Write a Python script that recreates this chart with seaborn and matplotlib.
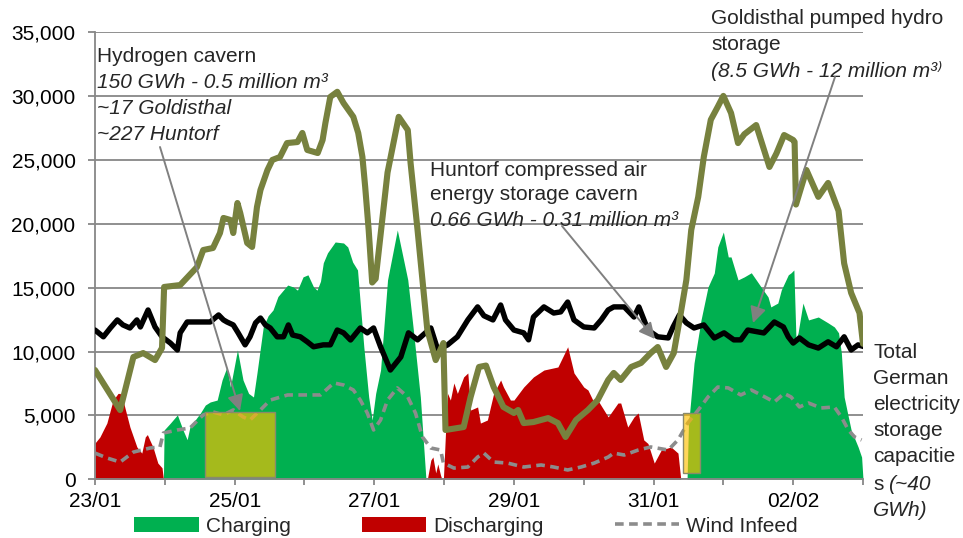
import matplotlib
matplotlib.use('Agg')
import matplotlib.pyplot as plt
import seaborn as sns
import pandas as pd
from matplotlib.patches import Patch, Rectangle
from matplotlib.lines import Line2D

# ---------------- data (time in days from 23/01 00:00, values in MW / MWh) ----------------
tick_days = list(range(0, 12))
tick_labels = ["23/01", "", "25/01", "", "27/01", "", "29/01", "", "31/01", "", "02/02", ""]

storage_t = [0.00, 0.36, 0.55, 0.69, 0.86, 0.96, 0.99, 1.22, 1.46, 1.55, 1.69, 1.79, 1.84, 1.94, 1.98,
             2.04, 2.08, 2.18, 2.25, 2.32, 2.37, 2.47, 2.54, 2.65, 2.75, 2.90, 2.97, 3.04, 3.19, 3.26,
             3.30, 3.37, 3.47, 3.56, 3.70, 3.77, 3.83, 3.87, 3.92, 3.97, 4.02, 4.19, 4.35, 4.48, 4.52,
             4.62, 4.69, 4.76, 4.88, 4.99, 5.02, 5.28, 5.38, 5.50, 5.60, 5.71, 5.85, 6.00, 6.06, 6.14,
             6.28, 6.49, 6.63, 6.74, 6.89, 7.06, 7.20, 7.35, 7.43, 7.53, 7.68, 7.82, 7.96, 8.06, 8.18,
             8.29, 8.39, 8.47, 8.54, 8.64, 8.72, 8.82, 8.92, 9.00, 9.11, 9.21, 9.30, 9.47, 9.66, 9.76,
             9.87, 10.00, 10.02, 10.04, 10.19, 10.36, 10.50, 10.65, 10.73, 10.83, 10.95, 11.00]
storage_v = [8550, 5420, 9570, 9880, 9330, 10280, 15050, 15200, 16600, 17940, 18100, 19270, 20450, 20290, 19270,
             21620, 20840, 18490, 18180, 21310, 22640, 24200, 24990, 25220, 26310, 26390, 27100, 25770, 25530, 26550,
             27880, 29920, 30320, 29440, 28360, 27100, 25230, 22870, 19500, 15400, 15700, 24000, 28360, 27330, 24750,
             19500, 15600, 11680, 9330, 10660, 3860, 4090, 6440, 8790, 8900, 7220, 5660, 5190, 5420, 4400,
             4480, 4790, 4400, 3310, 4640, 5420, 6200, 7770, 8320, 7770, 8790, 9100, 9880, 10350, 8790,
             9880, 13010, 15600, 19510, 22100, 25230, 28130, 29150, 30000, 28660, 26310, 27000, 27720, 24440, 25500,
             26940, 26550, 26400, 21500, 24200, 22100, 23190, 21000, 16900, 14590, 13010, 10600]

load_t = [0.00, 0.12, 0.22, 0.32, 0.40, 0.50, 0.60, 0.65, 0.76, 0.86, 0.96, 1.08, 1.18, 1.22, 1.32, 1.51,
          1.65, 1.77, 1.84, 1.89, 1.98, 2.05, 2.15, 2.22, 2.30, 2.37, 2.44, 2.51, 2.61, 2.70, 2.77, 2.83,
          2.94, 3.04, 3.13, 3.27, 3.37, 3.47, 3.56, 3.66, 3.80, 3.90, 3.99, 4.09, 4.23, 4.38, 4.49, 4.62,
          4.81, 4.91, 5.05, 5.19, 5.34, 5.48, 5.57, 5.70, 5.81, 5.88, 6.00, 6.14, 6.21, 6.28, 6.43, 6.57,
          6.67, 6.77, 6.86, 7.00, 7.15, 7.25, 7.35, 7.43, 7.58, 7.72, 7.79, 7.92, 8.06, 8.21, 8.28, 8.37,
          8.47, 8.58, 8.72, 8.87, 9.01, 9.15, 9.25, 9.35, 9.50, 9.58, 9.73, 9.86, 9.93, 10.00, 10.09, 10.22,
          10.36, 10.50, 10.62, 10.73, 10.83, 10.93, 11.02]
load_v = [11680, 11150, 11840, 12470, 12080, 11840, 12470, 11920, 13250, 11920, 11150, 10660, 10120, 11460, 12310, 12310,
          12310, 12860, 12470, 12310, 12080, 11460, 10520, 11150, 12240, 12620, 12080, 11840, 11150, 11150, 12080, 11290,
          11150, 10760, 10370, 10520, 10520, 11680, 11460, 10900, 11840, 11460, 11840, 10370, 8550, 9570, 11460, 10910,
          11840, 10120, 10520, 11150, 12470, 13490, 12800, 12470, 13640, 12470, 11680, 11460, 10910, 12700, 13490, 13010,
          13100, 13870, 12470, 11920, 11840, 12470, 13250, 13490, 13490, 12700, 13490, 11680, 11150, 11060, 11920, 12860,
          12240, 11840, 12080, 11060, 11460, 10910, 10910, 11680, 11530, 11450, 12310, 11920, 11150, 10660, 11060, 10520,
          10270, 10760, 10370, 11150, 10120, 10520, 10370]

wind_t = [0.00, 0.17, 0.36, 0.55, 0.79, 0.93, 0.98, 1.18, 1.36, 1.55, 1.69, 1.84, 1.98, 2.12, 2.22, 2.37,
          2.51, 2.76, 3.04, 3.23, 3.42, 3.56, 3.70, 3.80, 3.90, 3.99, 4.09, 4.19, 4.33, 4.48, 4.59, 4.69,
          4.81, 4.95, 4.99, 5.14, 5.34, 5.48, 5.57, 5.71, 5.91, 6.14, 6.39, 6.57, 6.77, 6.96, 7.15, 7.35,
          7.43, 7.58, 7.78, 7.96, 8.21, 8.35, 8.49, 8.64, 8.78, 8.92, 9.07, 9.25, 9.40, 9.54, 9.73, 9.87,
          9.97, 10.09, 10.22, 10.40, 10.59, 10.69, 10.79, 10.88, 10.98]
wind_v = [2050, 1670, 1350, 2130, 2450, 2530, 3620, 3860, 4010, 5040, 5270, 5040, 5430, 4880, 4640, 5430,
          6200, 6600, 6600, 6600, 7540, 7380, 6990, 6200, 5190, 3860, 4640, 6200, 7150, 6440, 5190, 3310,
          2450, 2290, 1280, 880, 960, 1740, 2050, 1350, 1270, 960, 1120, 960, 730, 960, 1270, 1740,
          2050, 1900, 2290, 2530, 2290, 3080, 4400, 5420, 6440, 7220, 7150, 6600, 6990, 6600, 6050, 6720,
          6440, 5660, 5970, 5580, 5660, 4880, 3860, 3310, 3080]

charge1_t = [0.98, 0.99, 1.08, 1.18, 1.26, 1.32, 1.36, 1.51, 1.58, 1.65, 1.75, 1.82, 1.89, 1.94, 2.04, 2.12,
             2.20, 2.27, 2.32, 2.41, 2.48, 2.55, 2.62, 2.70, 2.76, 2.84, 2.90, 2.98, 3.05, 3.13, 3.18, 3.23,
             3.27, 3.33, 3.44, 3.56, 3.62, 3.69, 3.76, 3.85, 3.92, 3.97, 4.02, 4.09, 4.19, 4.33, 4.48, 4.56,
             4.66, 4.74]
charge1_v = [0, 3860, 4400, 5040, 3860, 3100, 4100, 5190, 5810, 6050, 6200, 7770, 8790, 7220, 10120, 7770,
             6720, 6440, 8320, 11920, 12800, 13250, 14300, 14820, 15200, 15050, 14800, 15840, 16000, 15050, 14800, 15500,
             16940, 17720, 18570, 18490, 18180, 17000, 16380, 10370, 6440, 4640, 6720, 8550, 15600, 19510, 15600, 11680,
             6440, 0]

charge2_t = [8.48, 8.50, 8.53, 8.58, 8.68, 8.78, 8.87, 8.92, 9.00, 9.07, 9.11, 9.21, 9.30, 9.40, 9.54, 9.64,
             9.68, 9.78, 9.83, 9.93, 9.97, 10.01, 10.04, 10.07, 10.14, 10.22, 10.36, 10.50, 10.59, 10.65, 10.69,
             10.73, 10.79, 10.83, 10.93, 10.98, 11.00]
charge2_v = [0, 4200, 6000, 9100, 12470, 15050, 16140, 18180, 19350, 17400, 17400, 15600, 15840, 16160, 15050, 14270,
             13490, 13790, 14820, 16000, 16160, 16380, 11000, 11460, 13790, 12470, 12700, 12240, 11920, 11460, 9880,
             6440, 4880, 3860, 2530, 1740, 0]

discharge1_t = [0.00, 0.07, 0.12, 0.17, 0.22, 0.26, 0.33, 0.36, 0.40, 0.50, 0.60, 0.67, 0.72, 0.75, 0.79,
                0.83, 0.90, 0.96, 0.98]
discharge1_v = [2840, 3310, 3860, 4400, 5420, 6200, 6720, 6720, 6200, 4090, 2530, 2050, 3310, 3500, 3000,
                2530, 1270, 900, 0]

discharge2_t = [4.76, 4.81, 4.84, 4.88, 4.91, 4.95, 4.97]
discharge2_v = [0, 1500, 1750, 500, 1200, 300, 0]

discharge3_t = [4.99, 5.02, 5.05, 5.09, 5.14, 5.19, 5.28, 5.34, 5.38, 5.48, 5.52, 5.62, 5.71, 5.81, 5.85, 5.95,
                6.00, 6.14, 6.28, 6.43, 6.63, 6.77, 6.86, 7.00, 7.06, 7.15, 7.20, 7.35, 7.39, 7.49, 7.53, 7.63,
                7.72, 7.78, 7.86, 7.92, 8.01, 8.11, 8.25, 8.35, 8.39]
discharge3_v = [0, 3620, 6720, 6200, 7540, 6720, 8010, 8320, 5420, 5660, 4400, 4640, 6720, 7770, 7220, 6200,
                6200, 7220, 8010, 8550, 8790, 10370, 8320, 7220, 6990, 5970, 6200, 4880, 5190, 5970, 5970, 4090,
                4880, 5190, 3080, 2800, 1270, 2290, 2530, 2050, 0]

# highlighted windows (day start, day end, value bottom, value top)
box_h2 = (1.58, 2.58, 200, 5270)
box_huntorf = (8.42, 8.67, 500, 5190)

legend_labels = ["Charging", "Discharging", "Wind Infeed"]

# ---------------- styling ----------------
GREEN = "#00B050"
RED = "#C00000"
OLIVE = "#77813E"
GRID = "#878787"
WINDC = "#8C8C8C"
ARROW = "#808080"

sns.set_theme(style="white")
plt.rcParams["font.family"] = ["Liberation Sans", "DejaVu Sans"]

W, H = 963, 538
fig = plt.figure(figsize=(W / 100, H / 100), dpi=100)
ax = fig.add_axes([95 / W, 1 - 479.3 / H, 768 / W, 447.3 / H])


def fx(px):
    return px / W


def fy(py):
    return 1 - py / H


# areas
for t, v in [(charge1_t, charge1_v), (charge2_t, charge2_v)]:
    ax.fill_between(t, v, 0, color=GREEN, lw=0, zorder=2)
for t, v in [(discharge1_t, discharge1_v), (discharge2_t, discharge2_v), (discharge3_t, discharge3_v)]:
    ax.fill_between(t, v, 0, color=RED, lw=0, zorder=2)

# lines
df_w = pd.DataFrame({"t": wind_t, "v": wind_v})
sns.lineplot(data=df_w, x="t", y="v", ax=ax, color=WINDC, lw=2.6, sort=False,
             dashes=False, zorder=3)
ax.lines[-1].set_dashes((2.4, 1.5))
ax.lines[-1].set_dash_capstyle("butt")

# yellow highlight boxes
for (x0, x1, y0, y1) in [box_h2, box_huntorf]:
    ax.add_patch(Rectangle((x0, y0), x1 - x0, y1 - y0, facecolor="#FFC000", alpha=0.65,
                           edgecolor="none", zorder=4))
    ax.add_patch(Rectangle((x0, y0), x1 - x0, y1 - y0, facecolor="none",
                           edgecolor="#8A8A6A", lw=1.0, zorder=4))

df_l = pd.DataFrame({"t": load_t, "v": load_v})
sns.lineplot(data=df_l, x="t", y="v", ax=ax, color="black", lw=3.9, sort=False, zorder=5)
df_s = pd.DataFrame({"t": storage_t, "v": storage_v})
sns.lineplot(data=df_s, x="t", y="v", ax=ax, color=OLIVE, lw=4.4, sort=False, zorder=6)

# axes
ax.set_xlim(0, 11)
ax.set_ylim(0, 35000)
ax.set_xlabel("")
ax.set_ylabel("")
ax.set_yticks(range(0, 35001, 5000))
ax.set_yticklabels([f"{v:,}" for v in range(0, 35001, 5000)])
ax.set_xticks(tick_days)
ax.set_xticklabels(tick_labels)
ax.set_axisbelow(True)
ax.yaxis.grid(True, color=GRID, lw=1.3)
ax.xaxis.grid(False)
for s in ["top", "right"]:
    ax.spines[s].set_visible(False)
for s in ["left", "bottom"]:
    ax.spines[s].set_color(GRID)
    ax.spines[s].set_linewidth(1.3)
ax.tick_params(axis="y", which="both", left=True, length=5, width=1.3, color=GRID,
               pad=9, labelsize=15, labelcolor="black")
ax.tick_params(axis="x", which="both", bottom=True, length=4.5, width=1.3, color=GRID,
               pad=5, labelsize=15, labelcolor="black")
ax.set_facecolor("white")
fig.patch.set_facecolor("white")

# annotations
FS = 15
fig.text(fx(97), fy(57), "Hydrogen cavern", fontsize=FS, va="center", ha="left")
fig.text(fx(97), fy(83), "150 GWh - 0.5 million m³", fontsize=FS, va="center", ha="left", style="italic")
fig.text(fx(97), fy(108), "~17 Goldisthal", fontsize=FS, va="center", ha="left", style="italic")
fig.text(fx(97), fy(134), "~227 Huntorf", fontsize=FS, va="center", ha="left", style="italic")

fig.text(fx(430), fy(170), "Huntorf compressed air", fontsize=FS, va="center", ha="left")
fig.text(fx(430), fy(195), "energy storage cavern", fontsize=FS, va="center", ha="left")
fig.text(fx(430), fy(220), "0.66 GWh - 0.31 million m³", fontsize=FS, va="center", ha="left", style="italic")

fig.text(fx(711), fy(19), "Goldisthal pumped hydro", fontsize=FS, va="center", ha="left")
fig.text(fx(711), fy(45), "storage", fontsize=FS, va="center", ha="left")
fig.text(fx(711), fy(71), "(8.5 GWh - 12 million m³⁾", fontsize=FS, va="center", ha="left", style="italic")

right_lines = ["Total", "German", "electricity", "storage", "capacitie"]
for i, s in enumerate(right_lines):
    fig.text(fx(873), fy(353 + 26 * i), s, fontsize=FS, va="center", ha="left")
fig.text(fx(873), fy(484), "s", fontsize=FS, va="center", ha="left")
fig.text(fx(888), fy(484), "(~40", fontsize=FS, va="center", ha="left", style="italic")
fig.text(fx(873), fy(510), "GWh)", fontsize=FS, va="center", ha="left", style="italic")

arrowprops = dict(arrowstyle="-|>", color=ARROW, lw=1.4, mutation_scale=24,
                  shrinkA=0, shrinkB=0)
for (sx, sy), (ex, ey) in [((160, 147), (240, 411)), ((562, 226), (655, 339)), ((835, 77), (753, 323))]:
    fig.add_artist(matplotlib.patches.FancyArrowPatch((fx(sx), fy(sy)), (fx(ex), fy(ey)),
                                                      transform=fig.transFigure, zorder=10,
                                                      **arrowprops))

# legend
handles = [Patch(facecolor=GREEN, edgecolor="none"),
           Patch(facecolor=RED, edgecolor="none"),
           Line2D([0], [0], color=WINDC, lw=2.6, dashes=(2.4, 1.5), dash_capstyle="butt")]
fig.legend(handles, legend_labels, loc="center", bbox_to_anchor=(fx(466), fy(526)), ncol=3,
           frameon=False, fontsize=FS, handlelength=3.1, handleheight=0.7, handletextpad=0.35,
           columnspacing=3.4, borderpad=0.0, borderaxespad=0.0)

fig.savefig("out.png", dpi=100, facecolor="white")
